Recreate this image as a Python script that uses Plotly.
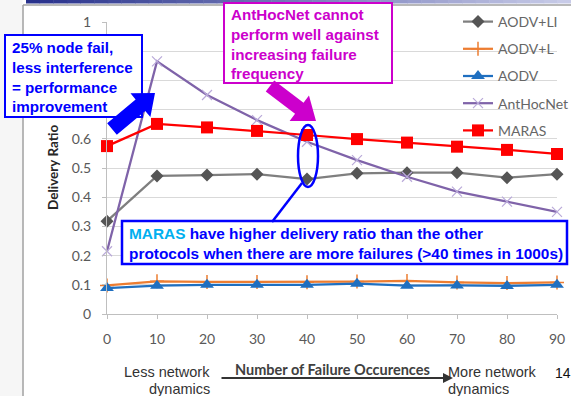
import math
import plotly.graph_objects as go

# ---------------- data ----------------
failures = [0, 10, 20, 30, 40, 50, 60, 70, 80, 90]
aodv_li = [0.318, 0.473, 0.476, 0.479, 0.462, 0.482, 0.484, 0.484, 0.467, 0.479]
aodv_l = [0.098, 0.112, 0.110, 0.110, 0.109, 0.111, 0.113, 0.108, 0.106, 0.108]
aodv = [0.089, 0.097, 0.100, 0.100, 0.100, 0.104, 0.097, 0.098, 0.096, 0.100]
anthocnet = [0.215, 0.865, 0.750, 0.664, 0.590, 0.527, 0.470, 0.419, 0.385, 0.350]
maras = [0.575, 0.651, 0.639, 0.627, 0.613, 0.599, 0.587, 0.573, 0.562, 0.548]
y_ticks = [0, 0.1, 0.2, 0.3, 0.4, 0.5, 0.6, 0.7, 0.8, 0.9, 1]
# 0.7-0.9 labels are hidden behind the call-out box in the original slide
y_tick_labels = ["0", "0.1", "0.2", "0.3", "0.4", "0.5", "0.6", "", "", "", "1"]

# ---------------- geometry helpers (pixel -> paper) ----------------
W, H = 571, 396
L, R, T, B = 107, 14, 22, 82
PW, PH = W - L - R, H - T - B


def px(x):
    return (x - L) / PW


def py(y):
    return (H - B - y) / PH


fig = go.Figure()

series = [
    ("AODV+LI", aodv_li, dict(color="#7F7F7F", width=2.25),
     dict(symbol="diamond", size=10, color="#555555")),
    ("AODV+L", aodv_l, dict(color="#ED7D31", width=2.25),
     dict(symbol="cross-thin", size=10, color="#ED7D31", line=dict(color="#ED7D31", width=1.5))),
    ("AODV", aodv, dict(color="#1F6FC0", width=2.25),
     dict(symbol="triangle-up", size=12, color="#1F6FC0")),
    ("AntHocNet", anthocnet, dict(color="#7F63A9", width=2.25),
     dict(symbol="x-thin", size=10, color="#B9A9D9", line=dict(color="#B9A9D9", width=1.2))),
    ("MARAS", maras, dict(color="#FF0000", width=2.25),
     dict(symbol="square", size=12, color="#FF0000")),
]
for name, vals, ln, mk in series:
    fig.add_trace(go.Scatter(x=failures, y=vals, name=name, mode="lines+markers",
                             line=ln, marker=mk, cliponaxis=False, legendgroup=name))

shapes = []
# slide background pieces
shapes.append(dict(type="rect", xref="paper", yref="paper", x0=px(0), x1=px(22.5), y0=py(396), y1=py(0),
                   fillcolor="#F6F6F6", line=dict(width=0), layer="below"))
# top gradient bar
n = 40
c0 = (40, 50, 140)
c1 = (200, 203, 232)
x_start, x_end = 26, 571
for i in range(n):
    t = i / (n - 1)
    col = tuple(int(c0[k] + (c1[k] - c0[k]) * t) for k in range(3))
    xa = x_start + (x_end - x_start) * i / n
    xb = x_start + (x_end - x_start) * (i + 1) / n + 0.5
    shapes.append(dict(type="rect", xref="paper", yref="paper", x0=px(xa), x1=px(xb), y0=py(3.5), y1=py(0),
                       fillcolor="rgb(%d,%d,%d)" % col, line=dict(width=0), layer="below"))
# chart border
shapes.append(dict(type="line", xref="paper", yref="paper", x0=px(23), x1=px(23), y0=py(5), y1=py(396),
                   line=dict(color="#A0A0A0", width=1.5), layer="below"))
shapes.append(dict(type="line", xref="paper", yref="paper", x0=px(23), x1=px(571), y0=py(5), y1=py(5),
                   line=dict(color="#A0A0A0", width=1.5), layer="below"))


def box(x0, y0, x1, y1, color, width=2):
    shapes.append(dict(type="rect", xref="paper", yref="paper", x0=px(x0), x1=px(x1), y0=py(y1), y1=py(y0),
                       fillcolor="white", line=dict(color=color, width=width), layer="above"))


def arrow(x0, y0, x1, y1, sw, hw, hl, color):
    dx, dy = x1 - x0, y1 - y0
    ln = math.hypot(dx, dy)
    ux, uy = dx / ln, dy / ln
    nx, ny = -uy, ux
    bx, by = x1 - ux * hl, y1 - uy * hl
    pts = [(x0 + nx * sw / 2, y0 + ny * sw / 2), (bx + nx * sw / 2, by + ny * sw / 2),
           (bx + nx * hw / 2, by + ny * hw / 2), (x1, y1),
           (bx - nx * hw / 2, by - ny * hw / 2), (bx - nx * sw / 2, by - ny * sw / 2),
           (x0 - nx * sw / 2, y0 - ny * sw / 2)]
    path = "M " + " L ".join("%.5f,%.5f" % (px(a), py(b)) for a, b in pts) + " Z"
    shapes.append(dict(type="path", xref="paper", yref="paper", path=path,
                       fillcolor=color, line=dict(width=0), layer="above"))


BLUE = "#0000FF"
MAG = "#CC00CC"
box(5, 35, 142, 117, BLUE)
box(224, 3, 392, 83, MAG)
box(122, 221, 567, 264, BLUE, 2.5)
arrow(112, 129, 155, 93, 15, 31, 19, BLUE)
arrow(270, 86, 316, 121, 14, 32, 21, MAG)
shapes.append(dict(type="circle", xref="paper", yref="paper", x0=px(298), x1=px(318), y0=py(187), y1=py(125),
                   line=dict(color=BLUE, width=2.5), layer="above"))
shapes.append(dict(type="line", xref="paper", yref="paper", x0=px(302), x1=px(272), y0=py(183), y1=py(222),
                   line=dict(color=BLUE, width=2.5), layer="above"))

ann = []


def text(x, y, s, size, color, bold=False, anchor="left", family="Liberation Sans", angle=0):
    if bold:
        s = "<br>".join("<b>%s</b>" % part for part in s.split("<br>"))
    ann.append(dict(x=px(x), y=py(y), xref="paper", yref="paper", text=s,
                    showarrow=False, xanchor=anchor, yanchor="middle", textangle=angle,
                    align=anchor if anchor != "center" else "center",
                    borderpad=0, borderwidth=0,
                    font=dict(family=family, size=size, color=color)))


text(12, 76.5, "25% node fail,<br>less interference<br>= performance<br>improvement", 15.2, BLUE, True)
text(231, 44, "AntHocNet cannot<br>perform well against<br>increasing failure<br>frequency", 15.2, MAG, True)
text(129, 243.5, "<span style='color:#00B0F0'>MARAS</span> have higher delivery ratio than the other"
     "<br>protocols when there are more failures (>40 times in 1000s)", 15.4, BLUE, True)

text(210, 372, "Less network", 14.5, "#333333", anchor="right")
text(210, 389, "dynamics", 14.5, "#333333", anchor="right")
text(448, 372, "More network", 14.5, "#333333")
text(448, 389, "dynamics", 14.5, "#333333")
text(555, 373, "14", 14, "#111111")
text(332.5, 369, "Number of Failure Occurences", 14.5, "#404040", True, anchor="center", family="Lato")
text(53, 168, "Delivery Ratio", 13.5, "#262626", True, anchor="center", family="Lato", angle=-90)
ann.append(dict(x=px(453), y=py(378), xref="paper", yref="paper", text="", showarrow=True,
                ax=-233, ay=0, arrowhead=2, arrowsize=1, arrowwidth=2, arrowcolor="#333333"))

fig.update_layout(
    width=W, height=H, margin=dict(l=L, r=R, t=T, b=B, autoexpand=False),
    paper_bgcolor="white", plot_bgcolor="white",
    font=dict(family="Lato", size=14, color="#595959"),
    shapes=shapes, annotations=ann,
    showlegend=True,
    legend=dict(x=px(458), y=py(6), xanchor="left", yanchor="top", xref="paper", yref="paper",
                bgcolor="rgba(0,0,0,0)", font=dict(family="Lato", size=14, color="#666666"),
                itemwidth=30, traceorder="grouped", tracegroupgap=6),
    xaxis=dict(range=[0, 90], tickmode="array", tickvals=failures, ticktext=[str(v) for v in failures],
               showgrid=False, zeroline=False, showline=True, linecolor="#BFBFBF", linewidth=1,
               ticks="outside", ticklen=4, tickcolor="#BFBFBF", ticklabelstandoff=8),
    yaxis=dict(range=[0, 1], tickmode="array", tickvals=y_ticks, ticktext=y_tick_labels,
               showgrid=True, gridcolor="#D9D9D9", gridwidth=1, zeroline=False, showline=True,
               linecolor="#BFBFBF", linewidth=1, ticks="outside", ticklen=4, tickcolor="#BFBFBF",
               ticklabelstandoff=8),
)

fig.write_html("out.html")
